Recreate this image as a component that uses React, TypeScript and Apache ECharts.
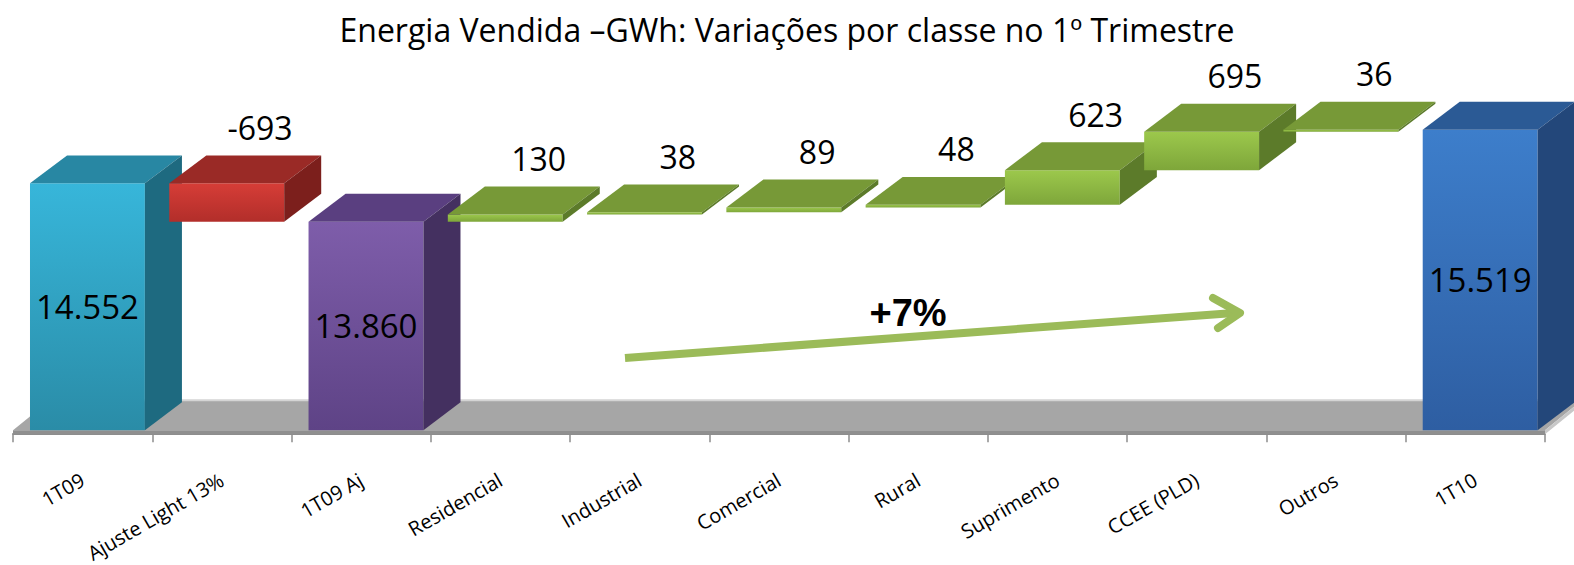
import React, { useEffect, useRef } from "react";
import * as echarts from "echarts";

const title = "Energia Vendida –GWh: Variações por classe no 1º Trimestre";
const categories = [
  "1T09",
  "Ajuste Light 13%",
  "1T09 Aj",
  "Residencial",
  "Industrial",
  "Comercial",
  "Rural",
  "Suprimento",
  "CCEE (PLD)",
  "Outros",
  "1T10",
];
const values = [14552, -693, 13860, 130, 38, 89, 48, 623, 695, 36, 15519];
const barKind = ["start", "decrease", "total", "increase", "increase", "increase", "increase", "increase", "increase", "increase", "end"];
const growthLabel = "+7%";
const axisMin = 10100;
const axisMax = 16000;

const FONT = "'Open Sans', 'Noto Sans', sans-serif";

const kindStyle: Record<string, any> = {
  start: { frontTop: "#37B6DA", frontBottom: "#2A8CA7", side: "#1E6A80", top: "#2887A3" },
  decrease: { frontTop: "#D63D37", frontBottom: "#B22E2A", side: "#7C1F1C", top: "#9A2A26" },
  total: { frontTop: "#7E5DAA", frontBottom: "#5E4386", side: "#443060", top: "#5A3F80" },
  increase: { frontTop: "#9CC84C", frontBottom: "#7EA63A", side: "#5C7B2A", top: "#779937" },
  end: { frontTop: "#3D7ECB", frontBottom: "#2E5EA2", side: "#23477A", top: "#2B5A95" },
};

function fmt(v: number): string {
  const s = Math.abs(v).toString();
  const withSep = s.replace(/\B(?=(\d{3})+(?!\d))/g, ".");
  return (v < 0 ? "-" : "") + withSep;
}

function buildBars() {
  let run = 0;
  return values.map((v, i) => {
    const k = barKind[i];
    let low: number;
    let high: number;
    if (k === "start" || k === "total" || k === "end") {
      low = axisMin;
      high = v;
      run = v;
    } else {
      const next = run + v;
      low = Math.min(run, next);
      high = Math.max(run, next);
      run = next;
    }
    return [i, low, high, v];
  });
}

export default function App() {
  const ref = useRef<HTMLDivElement>(null);
  useEffect(() => {
    if (!ref.current) return;
    const chart = echarts.init(ref.current, undefined, { renderer: "svg" });
    const bars = buildBars();

    const renderBar = (params: any, api: any) => {
      const idx = api.value(0);
      const low = api.value(1);
      const high = api.value(2);
      const v = api.value(3);
      const kind = barKind[idx];
      const st = kindStyle[kind];
      const pLow = api.coord([idx, low]);
      const pHigh = api.coord([idx, high]);
      const band = api.size([1, 0])[0];
      const cx = pLow[0];
      const w = band * 0.825;
      const x0 = cx - band / 2 + band * 0.122;
      const dx = band * 0.266;
      const dy = -band * 0.2;
      const yL = pLow[1];
      const yH = pHigh[1];
      const isTotal = kind === "start" || kind === "total" || kind === "end";
      const children: any[] = [
        {
          type: "rect",
          shape: { x: x0, y: yH, width: w, height: Math.max(yL - yH, 1) },
          style: {
            fill: new echarts.graphic.LinearGradient(0, 0, 0, 1, [
              { offset: 0, color: st.frontTop },
              { offset: 1, color: st.frontBottom },
            ]),
          },
        },
        {
          type: "polygon",
          shape: { points: [[x0, yH], [x0 + w, yH], [x0 + w + dx, yH + dy], [x0 + dx, yH + dy]] },
          style: { fill: st.top },
        },
        {
          type: "polygon",
          shape: { points: [[x0 + w, yH], [x0 + w + dx, yH + dy], [x0 + w + dx, yL + dy], [x0 + w, yL]] },
          style: { fill: st.side },
        },
      ];
      if (isTotal) {
        children.push({
          type: "text",
          style: {
            text: fmt(v),
            x: x0 + w / 2,
            y: (yH + yL) / 2,
            align: "center",
            verticalAlign: "middle",
            fontSize: 33,
            fontFamily: FONT,
            fill: "#000",
          },
        });
      } else {
        children.push({
          type: "text",
          style: {
            text: fmt(v),
            x: x0 + w / 2 + dx * 0.9,
            y: yH + dy - 28,
            align: "center",
            verticalAlign: "middle",
            fontSize: 32,
            fontFamily: FONT,
            fill: "#000",
          },
        });
      }
      return { type: "group", children };
    };

    const renderFloor = (params: any) => {
      const cs = params.coordSys;
      const x1 = cs.x;
      const x2 = cs.x + cs.width;
      const y = cs.y + cs.height;
      const dx = 37;
      const dy = -30;
      const th = 4;
      return {
        type: "group",
        children: [
          {
            type: "polygon",
            shape: { points: [[x1, y], [x2, y], [x2 + dx, y + dy], [x1 + dx, y + dy]] },
            style: { fill: "#A6A6A6" },
          },
          {
            type: "line",
            shape: { x1: x1 + dx, y1: y + dy, x2: x2 + dx, y2: y + dy },
            style: { stroke: "#D4D4D4", lineWidth: 2 },
          },
          {
            type: "polygon",
            shape: { points: [[x1, y], [x2, y], [x2, y + th], [x1, y + th]] },
            style: { fill: "#8F8F8F" },
          },
          {
            type: "polygon",
            shape: { points: [[x2, y], [x2 + dx, y + dy], [x2 + dx, y + dy + th], [x2, y + th]] },
            style: { fill: "#C8C8C8" },
          },
        ],
      };
    };

    chart.setOption({
      animation: false,
      backgroundColor: "#fff",
      title: {
        text: title,
        left: "center",
        top: 8,
        textStyle: { fontSize: 32, fontWeight: "normal", color: "#000", fontFamily: FONT },
      },
      grid: { left: 13, right: 29, top: 103, bottom: 132 },
      xAxis: {
        type: "category",
        data: categories,
        boundaryGap: true,
        offset: 4,
        axisLine: { show: true, lineStyle: { color: "#8C8C8C", width: 2 } },
        axisTick: { show: true, interval: 0, length: 8, lineStyle: { color: "#8C8C8C", width: 1.5 } },
        axisLabel: { interval: 0, rotate: 30, fontSize: 20, color: "#000", fontFamily: FONT, margin: 44 },
      },
      yAxis: {
        type: "value",
        min: axisMin,
        max: axisMax,
        show: false,
        splitLine: { show: false },
      },
      series: [
        {
          type: "custom",
          renderItem: renderFloor,
          data: [[0, axisMin]],
          encode: { x: 0, y: 1 },
          silent: true,
          clip: false,
        },
        {
          type: "custom",
          renderItem: renderBar,
          data: bars,
          encode: { x: 0, y: [1, 2] },
          clip: false,
        },
      ],
      graphic: [
        {
          type: "line",
          shape: { x1: 625, y1: 358, x2: 1234, y2: 313 },
          style: { stroke: "#9BBB59", lineWidth: 8 },
          z: 10,
        },
        {
          type: "polyline",
          shape: { points: [[1213, 298], [1240, 313], [1218, 328]] },
          style: { stroke: "#9BBB59", lineWidth: 8, lineCap: "round", lineJoin: "round", fill: "none" },
          z: 10,
        },
        {
          type: "text",
          x: 908,
          y: 313,
          style: {
            text: growthLabel,
            align: "center",
            verticalAlign: "middle",
            fontSize: 38,
            fontWeight: "bold",
            fontFamily: "'Liberation Sans', Arial, sans-serif",
            fill: "#000",
          },
          z: 10,
        },
      ],
    });
    return () => chart.dispose();
  }, []);
  return (
    <div
      ref={ref}
      style={{ position: "absolute", left: 0, top: 0, width: 1574, height: 565 }}
    />
  );
}
